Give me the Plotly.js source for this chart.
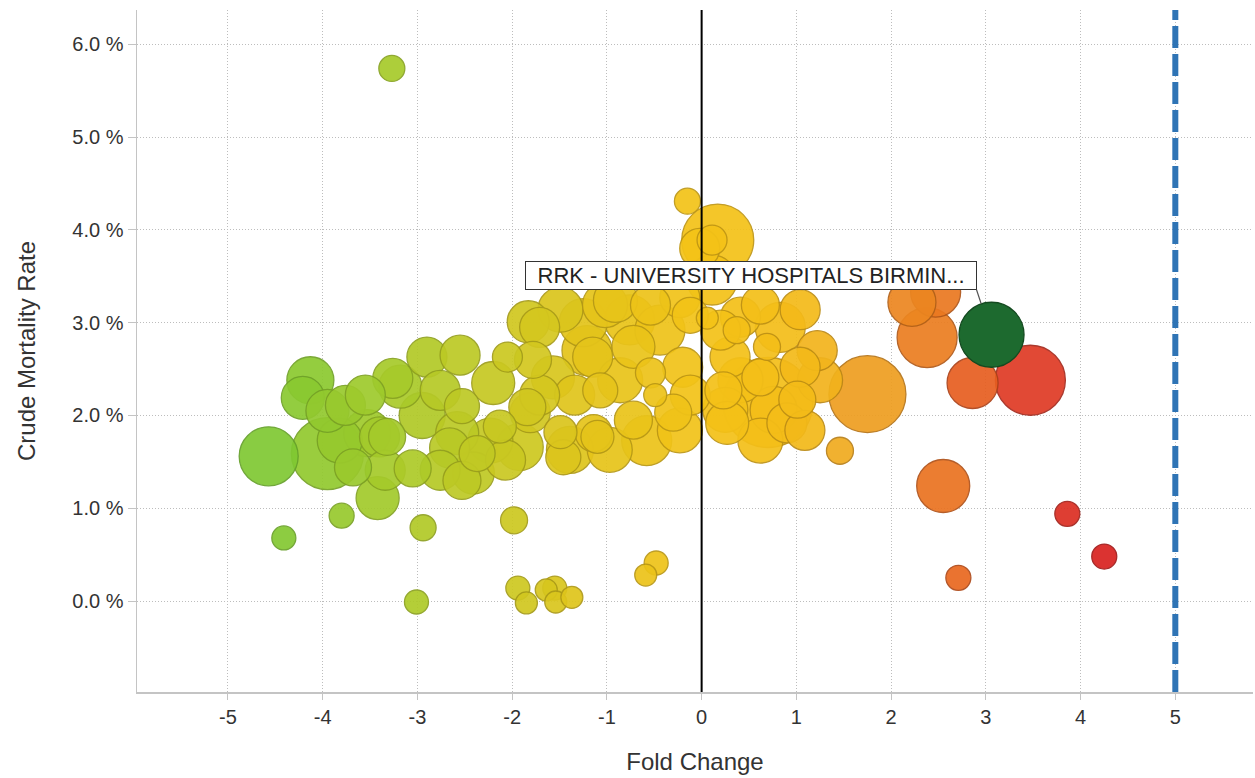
<!DOCTYPE html>
<html>
<head>
<meta charset="utf-8">
<script src="https://cdn.plot.ly/plotly-3.0.1.min.js"></script>
<style>html,body{margin:0;padding:0;background:#fff;}#chart{width:1255px;height:778px;}</style>
</head>
<body>
<div id="chart"></div>
<script>
// Fold change (x) per trust
const foldChange = [
  -3.27,-4.41,-3.80,-3.42,-4.57,-3.01,-2.94,-1.98,-1.94,-1.85,-1.64,-1.55,-1.54,-1.37,-0.59,-0.48,
  1.46,2.55,2.71,3.86,4.25,1.75,2.22,2.47,2.38,2.86,3.47,
  -4.13,-4.21,-3.95,-3.95,-3.68,-3.53,-3.32,-3.05,-3.18,-2.90,-2.55,-2.95,-2.58,-2.53,-2.41,-2.20,-2.13,
  -3.26,-3.40,-2.66,-2.37,-2.53,-3.76,-2.76,
  -1.78,-1.81,-1.49,-1.14,-1.21,-1.57,-1.07,-0.72,-0.76,-1.71,-1.92,-1.39,-1.25,-0.44,-0.72,-1.15,-2.05,
  -0.54,-0.49,-0.20,-0.30,-0.58,-1.46,-1.10,0.06,-1.49,-1.02,-0.23,0.11,-1.84,
  -0.15,0.17,0.11,-0.02,
  0.41,0.83,0.37,0.69,1.22,1.04,0.62,0.30,0.23,1.01,0.76,0.27,0.90,0.70,
  -1.83,-0.91,-0.54,-0.12,-1.34,-0.86,-1.71,-0.97,-0.23,-0.12,-2.23,-2.76,-2.07,
  -3.82,-3.55,-3.34,
  1.04,0.62,1.25,0.41,0.20,0.62,1.09,0.25
];
// Crude mortality rate (%)
const mortality = [
  5.74,0.68,0.92,1.11,1.56,-0.01,0.79,0.87,0.14,-0.02,0.12,0.14,-0.01,0.04,0.28,0.41,
  1.62,1.24,0.25,0.94,0.48,2.23,3.22,3.33,2.84,2.35,2.38,
  2.38,2.19,2.05,1.59,1.44,1.81,1.77,1.43,2.31,2.63,2.65,2.00,1.81,2.10,1.38,2.35,1.88,
  2.40,1.77,1.65,1.59,1.30,2.11,2.27,
  2.60,2.03,1.82,1.81,2.70,2.41,2.27,1.95,3.03,2.95,1.66,1.63,3.00,2.92,2.74,2.63,2.63,
  2.46,2.22,2.52,2.03,1.73,1.55,1.77,3.05,3.14,3.19,3.27,3.46,2.09,
  4.31,3.89,3.89,3.80,
  3.06,2.95,2.92,2.74,2.70,2.52,2.41,2.63,2.27,2.17,2.06,1.92,1.92,2.14,
  3.01,3.24,3.19,3.08,2.22,2.38,2.22,1.63,1.84,2.22,1.73,1.41,1.52,
  1.73,2.22,1.41,
  3.14,3.19,2.38,2.38,2.92,1.73,1.84,2.06
];
// Activity (bubble area)
const activity = [
  676,576,625,1849,3481,576,676,729,576,484,484,576,484,484,484,576,
  729,2809,625,625,625,5929,2304,2500,3600,2601,4900,
  2209,1849,1849,5184,1369,2209,1369,1369,1849,1600,1600,2116,1849,1225,1764,1849,1089,
  1600,1600,1600,1296,1444,1600,1600,
  1369,1600,1089,1369,2500,1849,1225,1444,2500,1600,2209,2209,2304,2500,1849,1600,900,
  900,529,1600,1369,2500,1225,1089,484,2025,2025,1600,2500,1369,
  676,5184,900,1600,
  1600,2500,729,729,1600,1600,1369,1600,1369,1369,2209,1849,1600,8100,
  1764,1936,1600,1296,1600,2025,1600,2025,2025,1600,2025,1600,1600,
  2025,1600,1600,
  1600,1444,2025,2025,1600,2025,1600,2025
];
// Highlighted trust
const selName = ["RRK - UNIVERSITY HOSPITALS BIRMIN..."];
const selFold = [3.06];
const selMort = [2.87];
const selActivity = [4225];

const xTickVals = [-5,-4,-3,-2,-1,0,1,2,3,4,5];
const yTickVals = [0,1,2,3,4,5,6];
const thresholdFold = 5;

// draw larger bubbles behind smaller ones
const order = activity.map((v,i)=>i).sort((a,b)=>activity[b]-activity[a]);
const ox = order.map(i=>foldChange[i]);
const oy = order.map(i=>mortality[i]);
const os = order.map(i=>activity[i]);

const fillScale = [
  [0.000,'#7ec832'],[0.146,'#a6ca2a'],[0.292,'#ccc820'],[0.382,'#e4c41a'],
  [0.517,'#f4c317'],[0.629,'#f4bc18'],[0.685,'#f0aa20'],[0.719,'#ee9c20'],
  [0.787,'#eb7c20'],[0.831,'#e8621f'],[0.899,'#e03c24'],[1.000,'#d82020']
];
const lineScale = [
  [0.000,'#64a02a'],[0.146,'#86a222'],[0.292,'#a29c1a'],[0.382,'#b29816'],
  [0.517,'#be9614'],[0.629,'#bc8e14'],[0.685,'#b87e18'],[0.719,'#b47218'],
  [0.787,'#b05818'],[0.831,'#ac4418'],[0.899,'#a42a1c'],[1.000,'#a01818']
];

const traces = [
  {
    type:'scatter', mode:'markers', x:ox, y:oy,
    marker:{
      size:os, sizemode:'area', sizeref:2,
      color:ox, colorscale:fillScale, cmin:-4.6, cmax:4.3, showscale:false,
      opacity:0.92,
      line:{width:1.3, color:ox, colorscale:lineScale, cmin:-4.6, cmax:4.3}
    },
    hoverinfo:'x+y', showlegend:false
  },
  {
    type:'scatter', mode:'markers', x:selFold, y:selMort, text:selName,
    marker:{size:selActivity, sizemode:'area', sizeref:2, color:'#1d6a2f', opacity:1,
      line:{width:1.3, color:'#144a20'}},
    hoverinfo:'text', showlegend:false
  }
];

const font = "'Liberation Sans', Arial, sans-serif";
const layout = {
  width:1255, height:778,
  margin:{l:137, r:2, t:10, b:86},
  paper_bgcolor:'#ffffff', plot_bgcolor:'#ffffff',
  font:{family:font, color:'#333333', size:20},
  showlegend:false,
  xaxis:{
    range:[-5.96,5.82], tickvals:xTickVals, ticktext:xTickVals.map(v=>String(v)),
    showgrid:true, gridcolor:'#bdbdbd', griddash:'1px,2px', gridwidth:1,
    zeroline:false, showline:true, linecolor:'#c4c4c4', linewidth:1.5,
    ticks:'outside', ticklen:6, tickcolor:'#c4c4c4',
    tickfont:{size:20, color:'#333'},
    title:{text:'Fold Change', font:{size:24, color:'#333'}, standoff:26}
  },
  yaxis:{
    range:[-0.98,6.37], tickvals:yTickVals, ticktext:yTickVals.map(v=>v.toFixed(1)+' %'),
    showgrid:true, gridcolor:'#bdbdbd', griddash:'1px,2px', gridwidth:1,
    zeroline:false, showline:true, linecolor:'#c4c4c4', linewidth:1.5,
    ticks:'outside', ticklen:8, tickcolor:'#c4c4c4',
    tickfont:{size:20, color:'#333'},
    title:{text:'Crude Mortality Rate', font:{size:24, color:'#333'}, standoff:30}
  },
  shapes:[
    {type:'line', xref:'x', yref:'paper', x0:0, x1:0, y0:0, y1:1,
     line:{color:'#000000', width:2}, layer:'above'},
    {type:'line', xref:'x', yref:'paper', x0:thresholdFold, x1:thresholdFold, y0:0, y1:1,
     line:{color:'#2f74b5', width:6, dash:'22px,6px'}, layer:'above'}
  ],
  annotations:[
    {x:selFold[0], y:selMort[0], xref:'x', yref:'y',
     text:'\u00a0\u2009'+selName[0]+'\u2009\u00a0', showarrow:true, arrowhead:0, arrowwidth:1.2, arrowcolor:'#555',
     ax:-15, ay:-45, xanchor:'right', yanchor:'bottom', standoff:33,
     bgcolor:'#ffffff', bordercolor:'#333333', borderwidth:1, borderpad:1,
     font:{size:22, color:'#222222', family:font}}
  ]
};

Plotly.newPlot('chart', traces, layout, {displayModeBar:false, staticPlot:true});
</script>
</body>
</html>
